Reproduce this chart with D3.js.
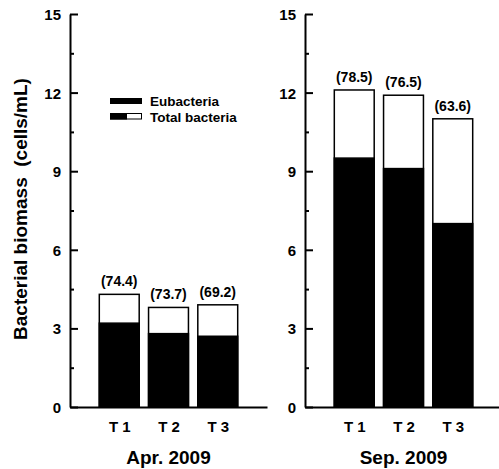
<!DOCTYPE html>
<html>
<head>
<style>
  body, html { margin: 0; padding: 0; background: #fff; }
  svg text { font-family: Arial, "Liberation Sans", sans-serif; font-weight: bold; fill: #000; }
</style>
</head>
<body>
<svg id="svg" width="499" height="469"></svg>
<script src="https://d3js.org/d3.v7.min.js"></script>
<script>
// treatments on the x axis
const treatments = ['T 1', 'T 2', 'T 3']
// panel titles
const periods = ['Apr. 2009', 'Sep. 2009']
// bar heights (cells/mL), one list per panel
const eubApr = [3.2, 2.8, 2.7]
const totalApr = [4.3, 3.8, 3.9]
const eubSep = [9.5, 9.1, 7.0]
const totalSep = [12.1, 11.9, 11.0]
// percentage labels over the bars
const pctApr = ['(74.4)', '(73.7)', '(69.2)']
const pctSep = ['(78.5)', '(76.5)', '(63.6)']
// y ticks
const majorTicks = [0, 3, 6, 9, 12, 15]
const minorTicks = [1.5, 4.5, 7.5, 10.5, 13.5]

const panels = [
  { title: periods[0], eub: eubApr, total: totalApr, pct: pctApr, left: 70 },
  { title: periods[1], eub: eubSep, total: totalSep, pct: pctSep, left: 305 }
]

const svg = d3.select('#svg')

// shared scales
const y = d3.scaleLinear().domain([0, 15]).range([407, 14])
const x = d3.scaleLinear().domain([0, 4]).range([0, 197])
const barW = (x(1) - x(0)) * 0.81

panels.forEach(p => {
  const g = svg.append('g').attr('transform', `translate(${p.left},0)`)

  // total bacteria (white) bars
  g.selectAll('rect.total')
    .data(p.total)
    .join('rect')
    .attr('class', 'total')
    .attr('x', (d, i) => x(i + 1) - barW / 2)
    .attr('width', barW)
    .attr('y', d => y(d))
    .attr('height', d => y(0) - y(d))
    .attr('fill', '#fff')
    .attr('stroke', '#000')
    .attr('stroke-width', 1.5)

  // eubacteria (black) bars
  g.selectAll('rect.eub')
    .data(p.eub)
    .join('rect')
    .attr('class', 'eub')
    .attr('x', (d, i) => x(i + 1) - barW / 2)
    .attr('width', barW)
    .attr('y', d => y(d))
    .attr('height', d => y(0) - y(d))
    .attr('fill', '#000')
    .attr('stroke', '#000')
    .attr('stroke-width', 1.5)

  // percentage labels
  g.selectAll('text.pct')
    .data(p.pct)
    .join('text')
    .attr('class', 'pct')
    .attr('x', (d, i) => x(i + 1))
    .attr('y', (d, i) => y(p.total[i]) - 8)
    .attr('text-anchor', 'middle')
    .attr('font-size', 14)
    .text(d => d)

  // y axis, ticks pointing inward
  const yAxis = g.append('g')
    .call(d3.axisLeft(y).tickValues(majorTicks).tickSize(-8).tickSizeOuter(0).tickPadding(9))
    .attr('font-size', 15)
  yAxis.select('.domain').attr('stroke-width', 2)
  yAxis.selectAll('.tick line').attr('stroke-width', 2)
  yAxis.selectAll('.tick text').attr('font-size', 15).attr('dy', '0.36em')

  g.append('g')
    .call(d3.axisLeft(y).tickValues(minorTicks).tickSize(-4).tickFormat(''))
    .call(a => a.select('.domain').remove())
    .selectAll('.tick line').attr('stroke-width', 2)

  // x axis
  const xAxis = g.append('g')
    .attr('transform', `translate(0,${y(0)})`)
    .call(d3.axisBottom(x).tickValues([1, 2, 3]).tickFormat(i => treatments[i - 1]).tickSize(0).tickSizeOuter(0).tickPadding(14))
    .attr('font-size', 15)
  xAxis.select('.domain').attr('stroke-width', 2)
  xAxis.selectAll('.tick text').attr('font-size', 15)

  // panel title
  g.append('text')
    .attr('x', x(2))
    .attr('y', 464)
    .attr('text-anchor', 'middle')
    .attr('font-size', 19)
    .text(p.title)
})

// y axis title
svg.append('text')
  .attr('transform', 'translate(27,209) rotate(-90)')
  .attr('text-anchor', 'middle')
  .attr('font-size', 19)
  .style('white-space', 'pre')
  .text('Bacterial biomass  (cells/mL)')

// legend
const legend = svg.append('g')
legend.append('rect').attr('x', 110).attr('y', 98).attr('width', 32).attr('height', 6).attr('fill', '#000')
legend.append('rect').attr('x', 110.5).attr('y', 113.5).attr('width', 31).attr('height', 5.5)
  .attr('fill', '#fff').attr('stroke', '#000').attr('stroke-width', 1)
legend.append('rect').attr('x', 110).attr('y', 113).attr('width', 17).attr('height', 6.5).attr('fill', '#000')
legend.append('text').attr('x', 150).attr('y', 105.5).attr('font-size', 13.5).text('Eubacteria')
legend.append('text').attr('x', 150).attr('y', 121.5).attr('font-size', 13.5).text('Total bacteria')
</script>
</body>
</html>
